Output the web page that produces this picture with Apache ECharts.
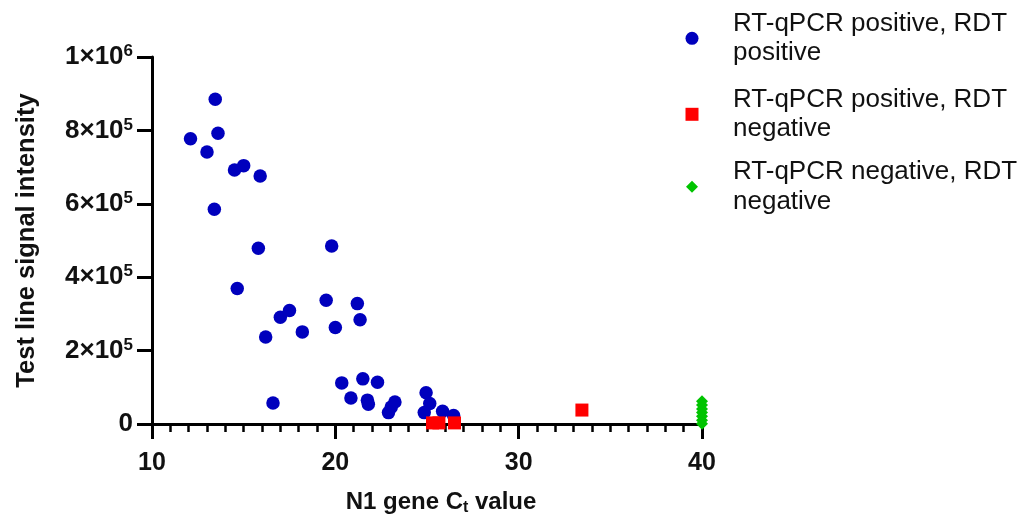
<!DOCTYPE html>
<html>
<head>
<meta charset="utf-8">
<script src="https://cdn.jsdelivr.net/npm/echarts@6/dist/echarts.min.js"></script>
<style>
  html, body { margin: 0; padding: 0; background: #fff; }
  #chart { width: 1029px; height: 517px; }
</style>
</head>
<body>
<div id="chart"></div>
<script>
// series names (legend text)
const seriesNames = [
  'RT-qPCR positive, RDT\npositive',
  'RT-qPCR positive, RDT\nnegative',
  'RT-qPCR negative, RDT\nnegative'
]

// RT-qPCR positive, RDT positive : [Ct, signal]
const posPosCt = [12.1, 13.0, 13.45, 13.6, 13.4, 14.5, 15.0, 15.9, 15.8, 14.65,
  16.2, 17.0, 17.5, 18.2, 16.6, 19.5, 19.8, 20.0, 21.2, 21.35,
  20.35, 21.5, 22.3, 20.85, 21.75, 21.8, 23.25, 23.05, 22.9,
  24.95, 25.15, 24.85, 25.85, 26.45]
const posPosSignal = [777000, 741000, 885000, 792000, 585000, 692000, 704000, 676000, 479000, 369000,
  237000, 291000, 309000, 251000, 57000, 337000, 485000, 263000, 328000, 284000,
  112000, 123000, 114000, 71000, 65000, 54000, 60000, 46000, 31000,
  85000, 56000, 31000, 35000, 23000]

// RT-qPCR positive, RDT negative
const posNegCt = [25.3, 25.65, 26.5, 33.45]
const posNegSignal = [3000, 3000, 3000, 38000]

// RT-qPCR negative, RDT negative (Ct reported as 40)
const negNegCt = [40, 40, 40, 40, 40, 40, 40]
const negNegSignal = [62000, 52000, 41000, 31000, 21000, 10000, 1000]

// y tick labels  (mantissa, exponent)
const yTickMantissa = { 0: '0', 200000: '2×10', 400000: '4×10', 600000: '6×10', 800000: '8×10', 1000000: '1×10' }
const yTickExponent = { 0: '', 200000: '5', 400000: '5', 600000: '5', 800000: '5', 1000000: '6' }

const colors = ['#0000bd', '#ff0000', '#00c400']

function zip(xs, ys) {
  return xs.map((x, i) => [x, ys[i]])
}

const chart = echarts.init(document.getElementById('chart'), null, { renderer: 'canvas' })

const fontFam = 'Arial, "Liberation Sans", Helvetica, sans-serif'
const axisColor = '#000'

// one legend for each item so that icon sizes / positions can differ
function makeLegend(name, top, w, h) {
  return {
    data: [name],
    left: 692 - w / 2,
    top: top,
    padding: 0,
    itemWidth: w,
    itemHeight: h,
    selectedMode: false,
    textStyle: {
      fontFamily: fontFam,
      fontSize: 26,
      lineHeight: 29.5,
      color: '#111',
      padding: [0, 0, 0, 36 - w / 2]
    }
  }
}

const option = {
  animation: false,
  backgroundColor: '#fff',
  grid: {
    left: 152,
    right: 327,
    top: 57,
    bottom: 93,
    outerBoundsMode: 'none'   // keep the plot box where it is
  },
  legend: [
    makeLegend(seriesNames[0], 8.8, 13, 13),
    makeLegend(seriesNames[1], 84.8, 13, 13),
    makeLegend(seriesNames[2], 157.2, 12, 12)
  ],
  xAxis: {
    type: 'value',
    min: 10,
    max: 40,
    interval: 10,
    name: '{a|N1 gene C}{s|t}{a| value}',
    nameLocation: 'middle',
    nameGap: 65,
    nameTextStyle: {
      rich: {
        a: { fontFamily: fontFam, fontWeight: 'bold', fontSize: 24, color: '#111', lineHeight: 27 },
        s: { fontFamily: fontFam, fontWeight: 'bold', fontSize: 16, color: '#111', verticalAlign: 'bottom', padding: [10, 0, 0, 0] }
      },
      padding: [0, 0, 0, 28]
    },
    splitLine: { show: false },
    axisLine: { onZero: false, lineStyle: { color: axisColor, width: 3 } },
    axisTick: { length: 15, lineStyle: { color: axisColor, width: 3 } },
    minorTick: { show: true, splitNumber: 10, length: 8, lineStyle: { color: axisColor, width: 2.5 } },
    axisLabel: {
      margin: 27,
      fontFamily: fontFam,
      fontWeight: 'bold',
      fontSize: 25,
      color: '#111'
    }
  },
  yAxis: {
    type: 'value',
    min: 0,
    max: 1000000,
    interval: 200000,
    name: 'Test line signal intensity',
    nameLocation: 'middle',
    nameGap: 112,
    nameTextStyle: {
      fontFamily: fontFam,
      fontWeight: 'bold',
      fontSize: 25.5,
      color: '#111'
    },
    splitLine: { show: false },
    axisLine: { show: true, lineStyle: { color: axisColor, width: 3 } },
    axisTick: { show: true, length: 15, lineStyle: { color: axisColor, width: 3 } },
    axisLabel: {
      margin: 19,
      color: '#111',
      formatter: function (v) {
        const m = yTickMantissa[v]
        const e = yTickExponent[v]
        return e ? '{n|' + m + '}{e|' + e + '}' : '{n|' + m + '}'
      },
      rich: {
        n: { fontFamily: fontFam, fontWeight: 'bold', fontSize: 26, color: '#111', lineHeight: 28 },
        e: { fontFamily: fontFam, fontWeight: 'bold', fontSize: 17, color: '#111', verticalAlign: 'top', padding: [0, 0, 11, 0] }
      }
    }
  },
  series: [
    {
      name: seriesNames[0],
      type: 'scatter',
      symbol: 'circle',
      symbolSize: 13.5,
      itemStyle: { color: colors[0], opacity: 1 },
      data: zip(posPosCt, posPosSignal)
    },
    {
      name: seriesNames[1],
      type: 'scatter',
      symbol: 'rect',
      symbolSize: 13,
      itemStyle: { color: colors[1], opacity: 1 },
      data: zip(posNegCt, posNegSignal)
    },
    {
      name: seriesNames[2],
      type: 'scatter',
      symbol: 'diamond',
      symbolSize: 12,
      clip: false,
      itemStyle: { color: colors[2], opacity: 1 },
      data: zip(negNegCt, negNegSignal)
    }
  ]
}

chart.setOption(option)
</script>
</body>
</html>
